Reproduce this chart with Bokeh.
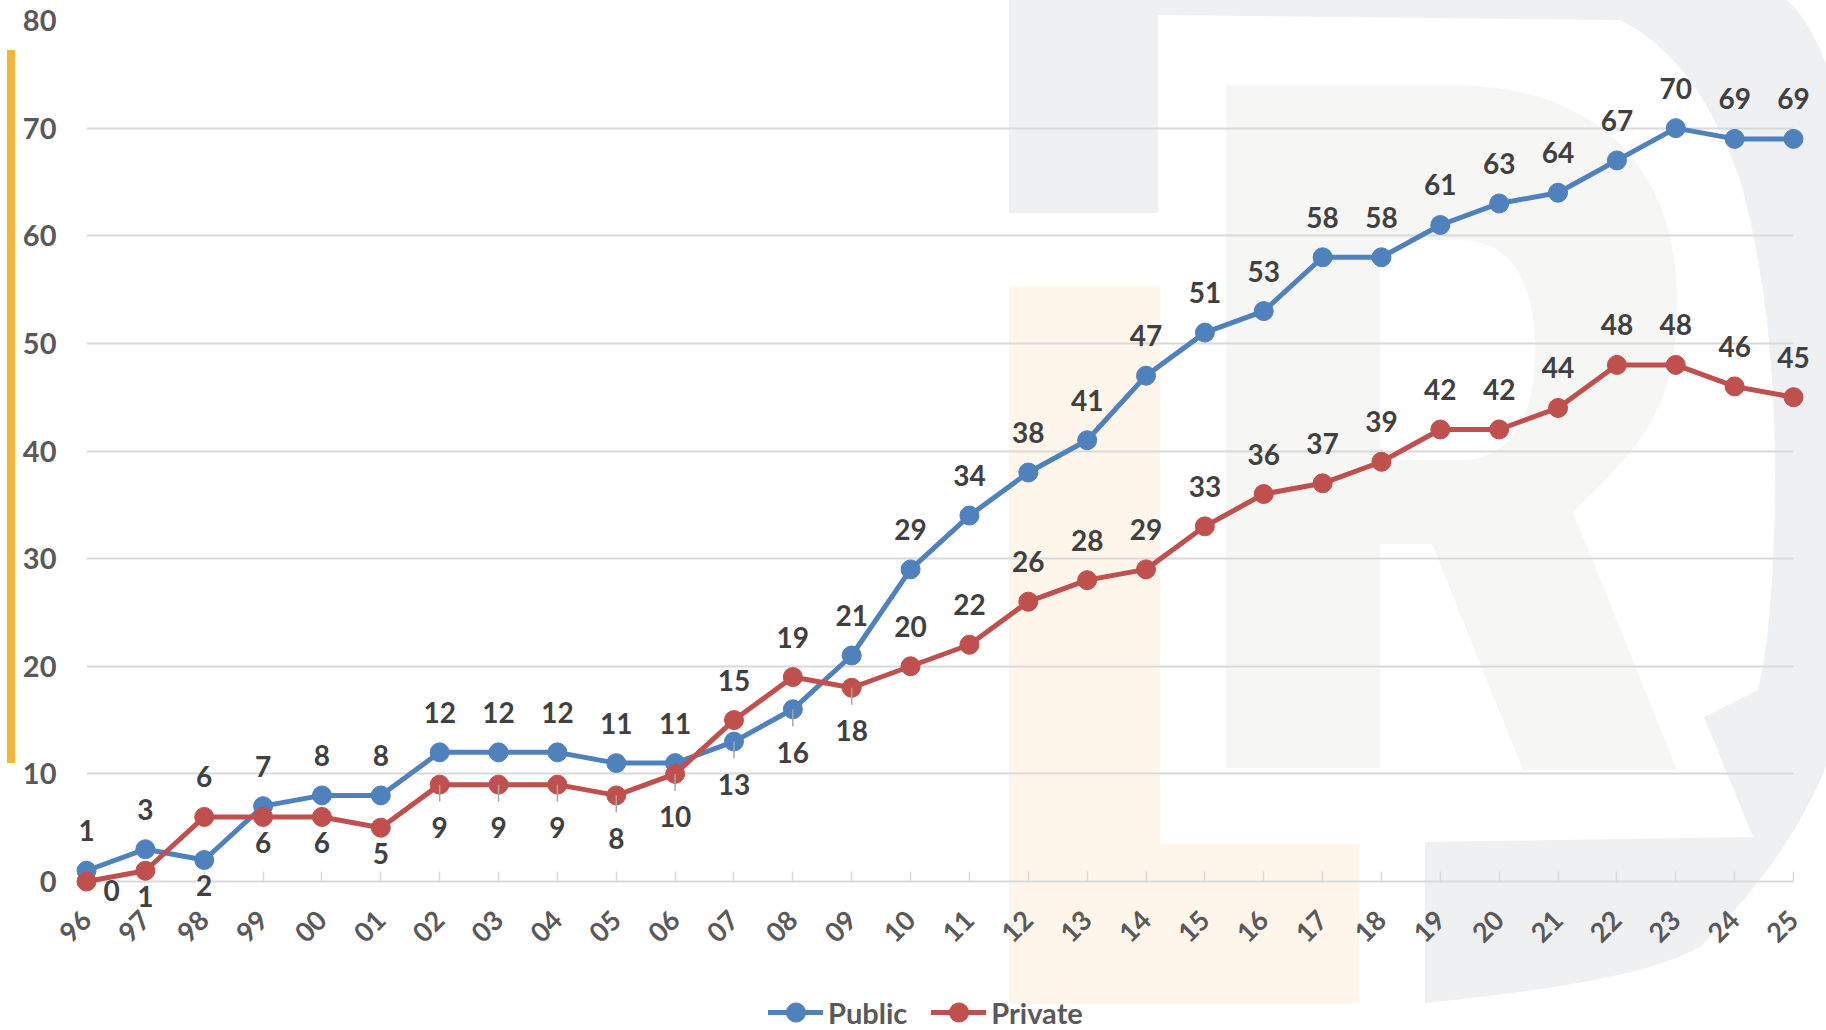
import math
from urllib.parse import quote

from bokeh.plotting import figure
from bokeh.layouts import column
from bokeh.models import ColumnDataSource, Range1d, FixedTicker, Legend, LegendItem
from bokeh.core.properties import value
from bokeh.embed import file_html
from bokeh.resources import INLINE

# ---------------- data ----------------
years = ["96", "97", "98", "99", "00", "01", "02", "03", "04", "05",
         "06", "07", "08", "09", "10", "11", "12", "13", "14", "15",
         "16", "17", "18", "19", "20", "21", "22", "23", "24", "25"]
public = [1, 3, 2, 7, 8, 8, 12, 12, 12, 11, 11, 13, 16, 21, 29, 34, 38, 41,
          47, 51, 53, 58, 58, 61, 63, 64, 67, 70, 69, 69]
private = [0, 1, 6, 6, 6, 5, 9, 9, 9, 8, 10, 15, 19, 18, 20, 22, 26, 28, 29,
           33, 36, 37, 39, 42, 42, 44, 48, 48, 46, 45]
y_ticks = [0, 10, 20, 30, 40, 50, 60, 70, 80]
series_names = ["Public", "Private"]

# ---------------- style / layout ----------------
FONT = "Lato"
BLUE = "#4f81bd"
RED = "#c0504d"
GRID = "#d9d9d9"
AXIS_TXT = "#595959"
LABEL_TXT = "#404040"
W, H = 1826, 1030
H_LEG = 50                      # strip below the chart that holds the legend
H_MAIN = H - H_LEG
LEFT, RIGHT, TOP = 86, 33, 20   # frame borders (px)
AXIS_Y = 881                    # screen y of value 0
LEADER_YEARS = {"02", "03", "04", "05", "06", "07", "08", "09"}
ABOVE_OFF, BELOW_OFF, LEADER_OFF = 40, 26, 43

x = list(range(len(years)))

p = figure(width=W, height=H_MAIN, output_backend="svg", toolbar_location=None,
           x_range=Range1d(0, len(years) - 1), y_range=Range1d(y_ticks[0], y_ticks[-1]),
           min_border_left=LEFT, min_border_right=RIGHT, min_border_top=TOP,
           min_border_bottom=H_MAIN - AXIS_Y, background_fill_color=None,
           border_fill_color=None, outline_line_color=None)

# watermark / decoration in the background (CSS)
svg = (
    f"<svg xmlns='http://www.w3.org/2000/svg' width='{W}' height='{H}' viewBox='0 0 {W} {H}'>"
    "<path fill='#eff0f2' d='M1009 0 L1786 0 C1830 30 1880 200 1880 420 C1880 600 1860 700 1826 767 "
    "C1800 830 1760 887 1700 947 C1660 968 1600 985 1425 1003 L1425 842 L1753 837 L1704 717 L1758 690 "
    "C1770 640 1775 560 1775 470 C1775 350 1760 250 1740 180 C1715 110 1680 50 1620 20 "
    "L1158 15 L1158 213 L1009 213 Z'/>"
    "<path fill='#f6f6f5' fill-rule='evenodd' d='M1226 85 L1450 85 C1600 85 1677 170 1677 300 "
    "C1677 400 1650 440 1573 512 L1677 770 L1523 770 L1432 544 L1380 544 L1380 768 L1226 768 Z "
    "M1380 240 L1460 240 C1510 240 1535 280 1535 350 C1535 420 1510 460 1460 460 L1380 460 Z'/>"
    "<path fill='#fef6ea' d='M1009 286 L1160 286 L1160 844 L1359 844 L1359 1004 L1009 1004 Z'/>"
    "<rect x='7' y='50' width='8' height='713' fill='#f6b436'/>"
    "</svg>"
)
bg = 'url("data:image/svg+xml;charset=utf8,' + quote(svg) + '")'
p.styles = {"background-image": bg, "background-repeat": "no-repeat",
            "background-size": f"{W}px {H}px", "background-position": "0px 0px"}

# axes
p.xaxis.ticker = FixedTicker(ticks=x)
p.xaxis.major_label_overrides = {i: y for i, y in enumerate(years)}
p.xaxis.major_label_orientation = math.pi / 4
p.xaxis.major_label_standoff = 34
p.xaxis.major_tick_in = 10
p.xaxis.major_tick_out = 0
p.xaxis.major_tick_line_color = GRID
p.xaxis.major_tick_line_width = 1.5
p.xaxis.minor_tick_line_color = None
p.xaxis.axis_line_color = GRID
p.xaxis.axis_line_width = 2
p.xaxis.major_label_text_font = FONT
p.xaxis.major_label_text_font_style = "bold"
p.xaxis.major_label_text_font_size = "27px"
p.xaxis.major_label_text_color = AXIS_TXT

p.yaxis.ticker = FixedTicker(ticks=y_ticks)
p.yaxis.major_tick_in = 0
p.yaxis.major_tick_out = 0
p.yaxis.minor_tick_line_color = None
p.yaxis.axis_line_color = None
p.yaxis.major_label_standoff = 30
p.yaxis.major_label_text_font = FONT
p.yaxis.major_label_text_font_style = "bold"
p.yaxis.major_label_text_font_size = "29px"
p.yaxis.major_label_text_color = AXIS_TXT

p.xgrid.grid_line_color = None
p.ygrid.grid_line_color = GRID
p.ygrid.grid_line_width = 2

# legend strip (a second figure under the chart); its view range lies far
# away from the data, so its renderers only serve as legend swatches
lf = figure(width=W, height=H_LEG, output_backend="svg", toolbar_location=None,
            x_range=Range1d(1000, 1001), y_range=Range1d(1000, 1001),
            x_axis_type=None, y_axis_type=None, min_border=0,
            background_fill_color=None, border_fill_color=None,
            outline_line_color=None)
lf.styles = {"background-image": bg, "background-repeat": "no-repeat",
             "background-size": f"{W}px {H}px",
             "background-position": f"0px -{H_MAIN}px"}

# series
items = []
label_rows = {"x": [], "y": [], "t": [], "dx": [], "dy": []}
leader_rows = {"x": [], "y": []}
all_series = [public, private]
colors = [BLUE, RED]
for s, (vals, col, name) in enumerate(zip(all_series, colors, series_names)):
    other = all_series[1 - s]
    src = ColumnDataSource(dict(x=x, y=vals))
    p.line("x", "y", source=src, line_color=col, line_width=5,
           line_join="round", line_cap="round", level="annotation")
    p.scatter("x", "y", source=src, size=19, fill_color=col,
              line_color=col, level="annotation")
    lr = lf.line("x", "y", source=src, line_color=col, line_width=5, line_cap="round")
    sr = lf.scatter("x", "y", source=src, size=19, fill_color=col, line_color=col)
    items.append(LegendItem(label=name, renderers=[lr, sr]))
    for i, v in enumerate(vals):
        below = v < other[i] and other[i] - v <= 4
        dx = 0
        if not below:
            dy = -ABOVE_OFF
        elif years[i] in LEADER_YEARS:
            dy = LEADER_OFF
            leader_rows["x"].append(i)
            leader_rows["y"].append(v)
        else:
            dy = BELOW_OFF
        if below and i == 0:
            dx, dy = 25, 9
        label_rows["x"].append(i)
        label_rows["y"].append(v)
        label_rows["t"].append(str(v))
        label_rows["dx"].append(dx)
        label_rows["dy"].append(dy)

p.ray("x", "y", source=ColumnDataSource(leader_rows), length=17,
      length_units="screen", angle=-math.pi / 2, line_color="#a6a6a6",
      line_width=1.5, level="annotation")

p.text("x", "y", text="t", x_offset="dx", y_offset="dy",
       source=ColumnDataSource(label_rows), text_align="center",
       text_baseline="middle", text_font=value(FONT),
       text_font_style="bold", text_font_size="28px",
       text_color=LABEL_TXT, level="annotation")

legend = Legend(items=items, location=(682, -6), orientation="horizontal",
                padding=0, margin=0, spacing=24, glyph_width=55,
                glyph_height=48, label_height=28, label_standoff=5,
                label_text_font=FONT, label_text_font_style="bold",
                label_text_font_size="29px", label_text_color=AXIS_TXT,
                background_fill_alpha=0, border_line_alpha=0)
lf.add_layout(legend)

open("out.html", "w").write(file_html(column(p, lf, spacing=0), INLINE))
